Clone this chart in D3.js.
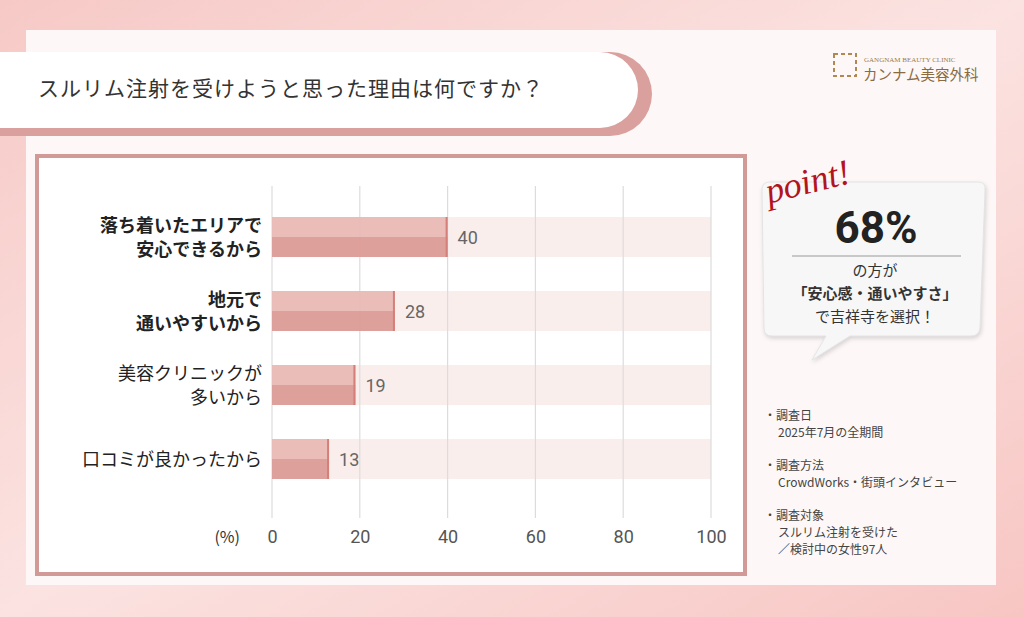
<!DOCTYPE html><html><head><meta charset="utf-8"><script src="https://cdn.jsdelivr.net/npm/d3@7"></script>
<style>body{margin:0}svg{display:block;font-family:"Noto Sans CJK JP","Noto Sans",sans-serif}</style></head><body><svg id="c" width="1024" height="617"></svg>
<script>
const categories=[["落ち着いたエリアで","安心できるから"],["地元で","通いやすいから"],["美容クリニックが","多いから"],["口コミが良かったから"]];
const bold=[true,true,false,false];
const values=[40,28,19,13];
const ticks=[0,20,40,60,80,100];
const svg=d3.select("#c");
const defs=svg.append("defs");
const g=defs.append("linearGradient").attr("id","bg").attr("x1",0).attr("y1",0).attr("x2",1).attr("y2",1);
g.append("stop").attr("offset",0).attr("stop-color","#f6c9c6");g.append("stop").attr("offset",0.5).attr("stop-color","#fbe3e1");g.append("stop").attr("offset",1).attr("stop-color","#f7c6c3");
svg.append("rect").attr("width",1024).attr("height",617).attr("fill","url(#bg)");
svg.append("rect").attr("x",26).attr("y",30).attr("width",970).attr("height",555).attr("fill","#fdf8f7");
svg.append("path").attr("d","M0,52 H610 A42,42 0 0 1 610,136 H0 Z").attr("fill","#d9a09d");
svg.append("path").attr("d","M0,52 H600 A38,38 0 0 1 600,128 H0 Z").attr("fill","#fff");
svg.append("text").attr("x",38).attr("y",96).attr("font-size",21).attr("fill","#333").attr("letter-spacing",1).text("スルリム注射を受けようと思った理由は何ですか？");
svg.append("rect").attr("x",834).attr("y",54).attr("width",22).attr("height",22).attr("fill","none").attr("stroke","#b08850").attr("stroke-width",2).attr("stroke-dasharray","4 3");
svg.append("text").attr("x",864).attr("y",62).attr("font-size",7).attr("font-family","Liberation Serif").attr("fill","#9a7a50").text("GANGNAM BEAUTY CLINIC");
svg.append("text").attr("x",863).attr("y",80).attr("font-size",14.5).attr("fill","#8a6a40").text("カンナム美容外科");
svg.append("rect").attr("x",37).attr("y",156).attr("width",708).attr("height",418).attr("fill","#fff").attr("stroke","#d29a97").attr("stroke-width",4);
const x=d3.scaleLinear().domain([0,100]).range([272,711]);
const y=d3.scaleBand().domain(d3.range(values.length)).range([200,496]).paddingInner(0.46).paddingOuter(0.23);
const bh=y.bandwidth();
svg.selectAll(".track").data(values).join("rect").attr("x",x(0)).attr("y",(d,i)=>y(i)).attr("width",x(100)-x(0)).attr("height",bh).attr("fill","#faeeed");
svg.selectAll(".grid").data(ticks).join("line").attr("x1",d=>x(d)).attr("x2",d=>x(d)).attr("y1",186).attr("y2",518).attr("stroke","#dcdcdc").attr("stroke-width",1.2);
svg.selectAll(".b1").data(values).join("rect").attr("x",x(0)).attr("y",(d,i)=>y(i)).attr("width",d=>x(d)-x(0)).attr("height",bh/2).attr("fill","#e9b9b6").attr("opacity",0.95);
svg.selectAll(".b2").data(values).join("rect").attr("x",x(0)).attr("y",(d,i)=>y(i)+bh/2).attr("width",d=>x(d)-x(0)).attr("height",bh/2).attr("fill","#dc9b97").attr("opacity",0.95);
svg.selectAll(".be").data(values).join("rect").attr("x",d=>x(d)-2).attr("y",(d,i)=>y(i)).attr("width",2).attr("height",bh).attr("fill","#d57f7a");
svg.selectAll(".vl").data(values).join("text").attr("x",d=>x(d)+10).attr("y",(d,i)=>y(i)+bh/2+7).attr("font-size",18).attr("fill","#666").attr("font-family","Roboto").text(d=>d);
categories.forEach((c,i)=>{const t=svg.append("text").attr("text-anchor","end").attr("font-size",18).attr("fill","#222").attr("font-weight",bold[i]?"bold":"normal");
 const cy=y(i)+bh/2;const n=c.length;c.forEach((s,j)=>t.append("tspan").attr("x",262).attr("y",cy+7+(j-(n-1)/2)*24).text(s));});
const ax=svg.append("g").attr("transform","translate(0,527)").call(d3.axisBottom(x).tickValues(ticks).tickSize(0));
ax.select(".domain").remove();ax.selectAll("text").attr("font-size",18).attr("fill","#555").attr("font-family","Roboto");
svg.append("text").attr("x",240).attr("y",543).attr("text-anchor","end").attr("font-size",16).attr("fill","#333").text("(%)");
svg.append("path").attr("d","M770,182 H978 Q986,182 985,190 L980,328 Q979,336 971,336 H850 L812,360 L826,336 H772 Q764,336 764,328 L762,190 Q762,182 770,182 Z").attr("fill","#f7f7f7").attr("stroke","#e4e4e4").attr("filter","drop-shadow(1px 2px 2px rgba(0,0,0,0.15))");
svg.append("text").attr("x",766).attr("y",198).attr("font-size",36).attr("font-style","italic").attr("font-family","Liberation Serif").attr("fill","#b3141c").attr("transform","rotate(-14,790,190)").text("point!");
svg.append("text").attr("x",876).attr("y",243).attr("text-anchor","middle").attr("font-size",44).attr("font-weight","bold").attr("font-family","Roboto").attr("fill","#222").text("68%");
svg.append("line").attr("x1",792).attr("x2",961).attr("y1",256).attr("y2",256).attr("stroke","#999");
[["の方が",false,276],["「安心感・通いやすさ」",true,299],["で吉祥寺を選択！",false,322]].forEach(([s,b,yy])=>svg.append("text").attr("x",875).attr("y",yy).attr("text-anchor","middle").attr("font-size",15).attr("font-weight",b?"bold":"normal").attr("fill","#333").text(s));
const notes=[["調査日","2025年7月の全期間"],["調査方法","CrowdWorks・街頭インタビュー"],["調査対象","スルリム注射を受けた","／検討中の女性97人"]];
const ny=[420,470,520];
notes.forEach((n,i)=>n.forEach((s,j)=>svg.append("text").attr("x",j?778:764).attr("y",ny[i]+j*17).attr("font-size",12).attr("fill","#444").text(j?s:"・"+s)));
</script></body></html>
